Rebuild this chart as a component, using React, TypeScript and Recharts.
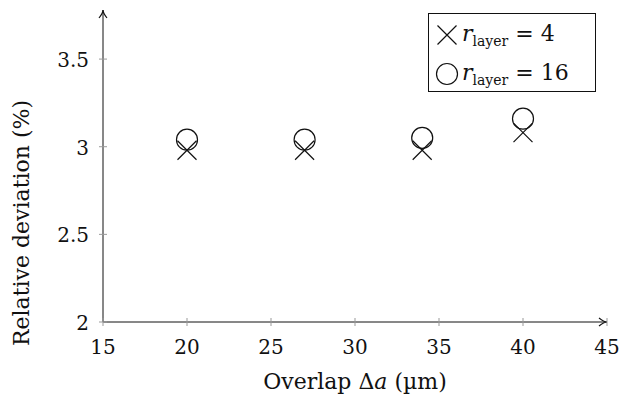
import { ScatterChart, Scatter, XAxis, YAxis, ReferenceDot, Label } from "recharts";

const overlaps = [20, 27, 34, 40];
const layer4 = [2.98, 2.98, 2.98, 3.08];
const layer16 = [3.04, 3.04, 3.05, 3.16];
const xTicks = [15, 20, 25, 30, 35, 40, 45];
const yTicks = [2, 2.5, 3, 3.5];

const FONT = "DejaVu Serif";
const FS = 20;
const LFS = 22;
const INK = "#111";

const data4 = overlaps.map((x, i) => ({ x, y: layer4[i] }));
const data16 = overlaps.map((x, i) => ({ x, y: layer16[i] }));

const Cross = (p: any) => (
  <path
    d={`M${p.cx - 9.5},${p.cy - 9.5}L${p.cx + 9.5},${p.cy + 9.5}M${p.cx - 9.5},${p.cy + 9.5}L${p.cx + 9.5},${p.cy - 9.5}`}
    stroke={INK}
    strokeWidth={1.2}
    fill="none"
  />
);

const Ring = (p: any) => <circle cx={p.cx} cy={p.cy} r={10.5} stroke={INK} strokeWidth={1.2} fill="none" />;

const XTick = ({ x, y, payload }: any) => (
  <g>
    <line x1={x} x2={x} y1={y - 4} y2={y + 4} stroke="#999" />
    <text x={x} y={y + 32} textAnchor="middle" style={{ fontSize: FS, fontFamily: FONT }} fill={INK}>
      {payload.value}
    </text>
  </g>
);

const YTick = ({ x, y, payload }: any) => (
  <g>
    <line x1={x - 4} x2={x + 4} y1={y} y2={y} stroke="#999" />
    <text x={x - 14} y={y + 8} textAnchor="end" style={{ fontSize: FS, fontFamily: FONT }} fill={INK}>
      {payload.value}
    </text>
  </g>
);

// x title with italic "a", placed under the tick labels
const XTitle = ({ viewBox }: any) => (
  <text
    x={viewBox.x + viewBox.width / 2}
    y={viewBox.y + 67}
    textAnchor="middle"
    style={{ fontSize: LFS, fontFamily: FONT }}
    fill={INK}
  >
    Overlap Δ<tspan fontStyle="italic">a</tspan> (µm)
  </text>
);

const ArrowRight = (p: any) => (
  <path d={`M${p.cx - 8},${p.cy - 4}Q${p.cx - 3},${p.cy} ${p.cx},${p.cy}Q${p.cx - 3},${p.cy} ${p.cx - 8},${p.cy + 4}`} stroke={INK} strokeWidth={1.2} fill="none" />
);

const ArrowUp = (p: any) => (
  <path d={`M${p.cx - 4},${p.cy + 8}Q${p.cx},${p.cy + 3} ${p.cx},${p.cy}Q${p.cx},${p.cy + 3} ${p.cx + 4},${p.cy + 8}`} stroke={INK} strokeWidth={1.2} fill="none" />
);

const Sym = ({ kind }: { kind: string }) => (
  <svg width={24} height={24} style={{ verticalAlign: "middle", marginRight: 3 }}>
    {kind === "x" ? (
      <path d="M2.5,2.5L21.5,21.5M2.5,21.5L21.5,2.5" stroke={INK} strokeWidth={1.2} fill="none" />
    ) : (
      <circle cx={12} cy={12} r={10.5} stroke={INK} strokeWidth={1.2} fill="none" />
    )}
  </svg>
);

const legendRows = [
  ["x", "4"],
  ["o", "16"],
];

const LegendBox = () => (
  <div
    style={{
      position: "absolute",
      left: 428,
      top: 13,
      width: 160,
      height: 73,
      border: `1px solid ${INK}`,
      background: "#fff",
      padding: "4px 0 0 6px",
      fontFamily: FONT,
      fontSize: LFS,
      color: INK,
      lineHeight: "31px",
    }}
  >
    {legendRows.map(([k, v]) => (
      <div key={k} style={{ whiteSpace: "nowrap" }}>
        <Sym kind={k} />
        <i>r</i>
        <sub style={{ fontSize: 14 }}>layer</sub> = {v}
      </div>
    ))}
  </div>
);

export default function App() {
  return (
    <div style={{ position: "absolute", left: 0, top: 0, width: 621, height: 399, background: "#fff" }}>
      <ScatterChart width={621} height={399} margin={{ top: 10, right: 14, left: 0, bottom: 0 }}>
        <XAxis
          type="number"
          dataKey="x"
          domain={[15, 45]}
          ticks={xTicks}
          tickSize={0}
          tickMargin={0}
          tick={<XTick />}
          axisLine={{ stroke: INK }}
          tickLine={false}
          height={77}
        >
          <Label content={<XTitle />} />
        </XAxis>
        <YAxis
          type="number"
          dataKey="y"
          domain={[2, 3.78]}
          ticks={yTicks}
          allowDataOverflow
          tickSize={0}
          tickMargin={0}
          tick={<YTick />}
          axisLine={{ stroke: INK }}
          tickLine={false}
          width={103}
          label={{ value: "Relative deviation (%)", angle: -90, position: "center", dx: -30, dy: 57, style: { fontSize: LFS, fontFamily: FONT }, fill: INK }}
        />
        <ReferenceDot x={45} y={2} r={0} shape={<ArrowRight />} ifOverflow="visible" />
        <ReferenceDot x={15} y={3.78} r={0} shape={<ArrowUp />} ifOverflow="visible" />
        <Scatter name="r4" data={data4} shape={<Cross />} isAnimationActive={false} />
        <Scatter name="r16" data={data16} shape={<Ring />} isAnimationActive={false} />
      </ScatterChart>
      <LegendBox />
    </div>
  );
}
